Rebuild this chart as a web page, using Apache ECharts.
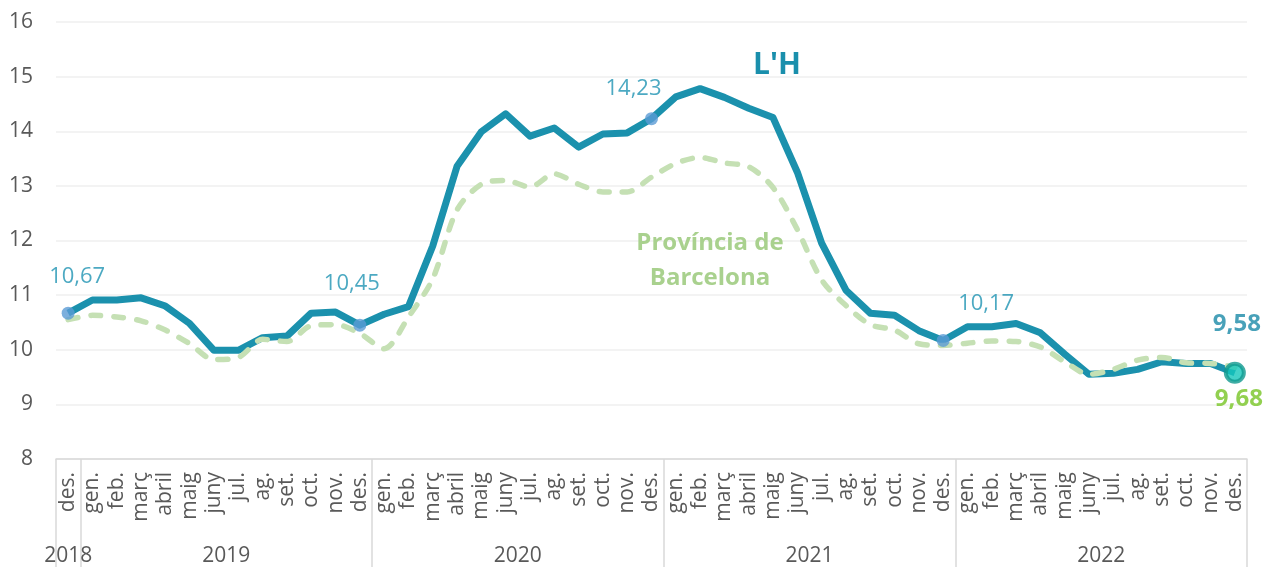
<!DOCTYPE html>
<html>
<head>
<meta charset="utf-8">
<script src="https://cdn.jsdelivr.net/npm/echarts@6/dist/echarts.min.js"></script>
<style>
html,body{margin:0;padding:0;background:#fff;}
#chart{width:1263px;height:567px;}
</style>
</head>
<body>
<div id="chart"></div>
<script>
// ---- data ----
const months = ['des.',
  'gen.','feb.','març','abril','maig','juny','jul.','ag.','set.','oct.','nov.','des.',
  'gen.','feb.','març','abril','maig','juny','jul.','ag.','set.','oct.','nov.','des.',
  'gen.','feb.','març','abril','maig','juny','jul.','ag.','set.','oct.','nov.','des.',
  'gen.','feb.','març','abril','maig','juny','jul.','ag.','set.','oct.','nov.','des.'];
const years = ['2018','2019','2020','2021','2022'];
const yearSpans = [1, 12, 12, 12, 12];

const lh = [10.67, 10.91, 10.91, 10.95, 10.80, 10.48, 9.99, 9.99, 10.22, 10.25, 10.67, 10.69, 10.45,
  10.65, 10.79, 11.90, 13.36, 13.99, 14.32, 13.91, 14.06, 13.71, 13.95, 13.97, 14.23,
  14.63, 14.78, 14.62, 14.42, 14.25, 13.25, 11.95, 11.09, 10.67, 10.63, 10.35, 10.17,
  10.42, 10.42, 10.48, 10.31, 9.92, 9.55, 9.57, 9.64, 9.78, 9.75, 9.75, 9.58];
const bcn = [10.55, 10.63, 10.60, 10.53, 10.36, 10.11, 9.82, 9.86, 10.19, 10.15, 10.44, 10.46, 10.30,
  10.02, 10.60, 11.30, 12.56, 13.03, 13.10, 12.98, 13.22, 13.03, 12.89, 12.89, 13.16,
  13.41, 13.52, 13.42, 13.35, 12.97, 12.20, 11.28, 10.81, 10.46, 10.36, 10.11, 10.08,
  10.12, 10.16, 10.15, 10.05, 9.78, 9.55, 9.64, 9.81, 9.86, 9.76, 9.75, 9.68];
const highlightIdx = [0, 12, 24, 36];
const yTicks = {min: 8, max: 16, step: 1};

// ---- derived ----
const fmt = v => v.toFixed(2).replace('.', ',');
const boundaries = [0];
yearSpans.forEach(s => boundaries.push(boundaries[boundaries.length - 1] + s));
const halfBoundaries = boundaries.map(b => b * 2);
const halfCenters = [];
for (let i = 0; i < years.length; i++) halfCenters.push(boundaries[i] + boundaries[i + 1]);
const halfCats = [];
for (let k = 0; k <= months.length * 2; k++) {
  const yi = halfCenters.indexOf(k);
  halfCats.push(yi >= 0 ? years[yi] : '');
}

const FONT = '"Open Sans", "DejaVu Sans", sans-serif';
const TEAL = '#1b91ad';
const GREEN_LINE = '#c5e0b4';
const last = months.length - 1;

const hlOffsets = [[9, -36], [-8, -41], [-18, -30], [43, -37]];

const chart = echarts.init(document.getElementById('chart'), null, {renderer: 'canvas'});
chart.setOption({
  animation: false,
  backgroundColor: '#ffffff',
  grid: {left: 56, right: 16, top: 22, bottom: 108},
  xAxis: [
    {
      type: 'category',
      data: months,
      boundaryGap: true,
      axisLine: {show: true, lineStyle: {color: '#d9d9d9', width: 1.5}},
      axisTick: {show: false},
      axisLabel: {rotate: 90, interval: 0, margin: 13, color: '#595959', fontSize: 21, fontFamily: FONT},
      splitLine: {show: false}
    },
    {
      type: 'category',
      data: halfCats,
      boundaryGap: false,
      position: 'bottom',
      axisLine: {show: false},
      axisTick: {show: true, length: 110, lineStyle: {color: '#d9d9d9', width: 1.5},
        interval: (idx) => halfBoundaries.indexOf(idx) >= 0},
      axisLabel: {show: true, margin: 87, color: '#595959', fontSize: 21, fontFamily: FONT,
        interval: (idx) => halfCenters.indexOf(idx) >= 0},
      splitLine: {show: false}
    }
  ],
  yAxis: {
    type: 'value',
    min: yTicks.min, max: yTicks.max, interval: yTicks.step,
    axisLine: {show: false},
    axisTick: {show: false},
    axisLabel: {color: '#595959', fontSize: 21, fontFamily: FONT, margin: 23},
    splitLine: {lineStyle: {color: '#efefef', width: 1.5}}
  },
  graphic: [
    {type: 'text', z: 100, style: {text: "L'H", x: 777, y: 65, textAlign: 'center', textVerticalAlign: 'middle',
      fill: '#1a8fac', font: 'bold 30px ' + FONT}},
    {type: 'text', z: 100, style: {text: 'Província de\nBarcelona', x: 710, y: 261, textAlign: 'center', textVerticalAlign: 'middle',
      fill: '#a9d18e', font: 'bold 24px ' + FONT, lineHeight: 35}}
  ],
  series: [
    {
      name: "L'H",
      type: 'line',
      data: lh,
      xAxisIndex: 0,
      showSymbol: false,
      symbol: 'none',
      lineStyle: {color: TEAL, width: 7, join: 'round'},
      z: 2
    },
    {
      name: 'Província de Barcelona',
      type: 'line',
      data: bcn,
      xAxisIndex: 0,
      showSymbol: false,
      symbol: 'none',
      smooth: 0.3,
      lineStyle: {color: GREEN_LINE, width: 5.5, type: [10, 13], cap: 'round'},
      label: {show: false},
      endLabel: {show: true, formatter: p => fmt(p.value), color: '#92d050', fontSize: 24, fontWeight: 'bold',
        fontFamily: FONT, offset: [-28, 32]},
      z: 3
    },
    {
      name: 'fites',
      type: 'scatter',
      xAxisIndex: 0,
      symbol: 'circle',
      symbolSize: 13,
      itemStyle: {color: '#5b9bd5'},
      data: highlightIdx.map((i, k) => ({
        value: [i, lh[i]],
        label: {offset: hlOffsets[k]}
      })),
      label: {show: true, position: 'inside', formatter: p => fmt(p.value[1]), color: '#1f93b3',
        fontSize: 22, fontFamily: FONT},
      z: 4
    },
    {
      name: 'final',
      type: 'scatter',
      xAxisIndex: 0,
      symbol: 'circle',
      symbolSize: 18,
      itemStyle: {color: '#14c7bc', borderColor: '#10998e', borderWidth: 4},
      data: [[last, lh[last]]],
      label: {show: true, position: 'inside', offset: [2, -49], formatter: p => fmt(p.value[1]), color: '#1a8aa8',
        fontSize: 24, fontWeight: 'bold', fontFamily: FONT},
      z: 5
    }
  ]
});
</script>
</body>
</html>
